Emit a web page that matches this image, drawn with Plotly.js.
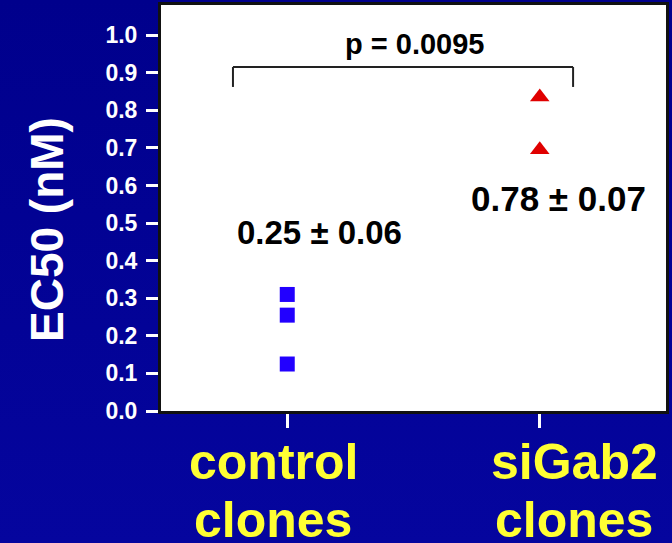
<!DOCTYPE html>
<html>
<head>
<meta charset="utf-8">
<script src="https://cdn.plot.ly/plotly-3.0.1.min.js"></script>
<style>
html,body{margin:0;padding:0;width:672px;height:543px;overflow:hidden;background:linear-gradient(#00008c,#05059e);}
#chart{width:672px;height:543px;}
</style>
</head>
<body>
<div id="chart"></div>
<script>
// Data
const categories = ['control', 'siGab2'];
const categoryLine1 = ['control', 'siGab2'];
const categoryLine2 = ['clones', 'clones'];
const categoryLabelX = [-0.056, 1.136];
const controlValues = [0.31, 0.255, 0.125];
const siGab2Values = [0.835, 0.695];
const yTickVals = [0, 0.1, 0.2, 0.3, 0.4, 0.5, 0.6, 0.7, 0.8, 0.9, 1.0];
const yTickText = ['0.0','0.1','0.2','0.3','0.4','0.5','0.6','0.7','0.8','0.9','1.0'];
const yTitle = 'EC50 (nM)';
const statLabels = ['0.25 ± 0.06', '0.78 ± 0.07'];
const statX = [0.126, 1.076];
const statY = [0.476, 0.566];
const statSize = [33, 35];
const pLabel = 'p = 0.0095';
const pX = 0.502, pY = 0.976;
const bracketX = [-0.215, 1.132];
const bracketY = [0.862, 0.915];

const FONT = 'Liberation Sans, Arial, sans-serif';

const traces = [
  {
    type: 'scatter', mode: 'markers',
    x: controlValues.map(() => categories[0]),
    y: controlValues,
    marker: {symbol: 'square', size: 15, color: '#2200ff'},
    hoverinfo: 'y'
  },
  {
    type: 'scatter', mode: 'markers',
    x: siGab2Values.map(() => categories[1]),
    y: siGab2Values,
    marker: {symbol: 'triangle-up', size: 17, color: '#e00000'},
    hoverinfo: 'y'
  }
];

const annotations = statLabels.map((t, i) => ({
  text: t, x: statX[i], y: statY[i], xref: 'x', yref: 'y',
  showarrow: false, xanchor: 'center', yanchor: 'middle',
  font: {family: FONT, size: statSize[i], color: '#000000', weight: 'bold'}
}));
annotations.push({
  text: pLabel, x: pX, y: pY, xref: 'x', yref: 'y',
  showarrow: false, xanchor: 'center', yanchor: 'middle',
  font: {family: FONT, size: 29, color: '#000000', weight: 'bold'}
});
// y-axis title (placed below the axis centre as in the reference)
annotations.push({
  text: yTitle, x: -0.226, y: 0.448, xref: 'paper', yref: 'paper',
  showarrow: false, xanchor: 'center', yanchor: 'middle', textangle: -90,
  font: {family: FONT, size: 46, color: '#ffffff', weight: 'bold'}
});
// category labels (two lines each)
categoryLine1.forEach((t, i) => {
  annotations.push({
    text: t, x: categoryLabelX[i], y: -0.125, xref: 'x', yref: 'paper',
    showarrow: false, xanchor: 'center', yanchor: 'middle',
    font: {family: FONT, size: 50, color: '#ffff33', weight: 'bold'}
  });
  annotations.push({
    text: categoryLine2[i], x: categoryLabelX[i], y: -0.268, xref: 'x', yref: 'paper',
    showarrow: false, xanchor: 'center', yanchor: 'middle',
    font: {family: FONT, size: 50, color: '#ffff33', weight: 'bold'}
  });
});

const bracketLine = {color: '#222222', width: 2};
const shapes = [
  {type: 'line', xref: 'x', yref: 'y', x0: bracketX[0], x1: bracketX[1], y0: bracketY[1], y1: bracketY[1], line: bracketLine},
  {type: 'line', xref: 'x', yref: 'y', x0: bracketX[0], x1: bracketX[0], y0: bracketY[0], y1: bracketY[1], line: bracketLine},
  {type: 'line', xref: 'x', yref: 'y', x0: bracketX[1], x1: bracketX[1], y0: bracketY[0], y1: bracketY[1], line: bracketLine}
];

const layout = {
  width: 672, height: 543,
  margin: {l: 161, r: 6, t: 5, b: 132},
  paper_bgcolor: 'rgba(0,0,0,0)',
  plot_bgcolor: '#ffffff',
  showlegend: false,
  font: {family: FONT},
  xaxis: {
    type: 'category',
    range: [-0.5, 1.5],
    tickvals: categories,
    showticklabels: false,
    ticks: 'outside', ticklen: 14, tickwidth: 3, tickcolor: '#ffffff',
    showline: true, linecolor: '#111111', linewidth: 3, mirror: true,
    showgrid: false, zeroline: false, fixedrange: true
  },
  yaxis: {
    range: [0, 1.08],
    tickvals: yTickVals,
    ticktext: yTickText,
    ticks: 'outside', ticklen: 12, tickwidth: 3, tickcolor: '#ffffff',
    tickfont: {family: FONT, size: 23, color: '#ffffff', weight: 'bold'},
    ticklabelstandoff: 4,
    showline: true, linecolor: '#111111', linewidth: 3, mirror: true,
    showgrid: false, zeroline: false, fixedrange: true
  },
  annotations: annotations,
  shapes: shapes
};

Plotly.newPlot('chart', traces, layout, {displayModeBar: false, staticPlot: true});
</script>
</body>
</html>
